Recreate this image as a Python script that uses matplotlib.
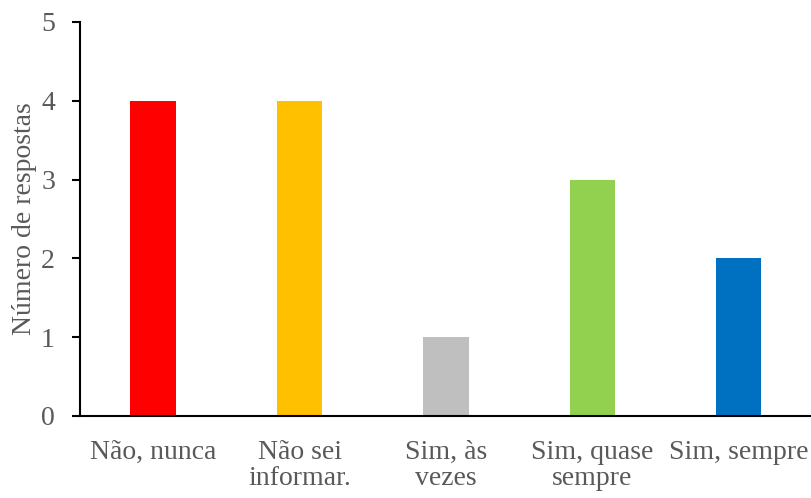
import matplotlib
matplotlib.use('Agg')
import matplotlib.pyplot as plt

# Respostas por categoria
categorias = ['Não, nunca', 'Não sei\ninformar.', 'Sim, às\nvezes', 'Sim, quase\nsempre', 'Sim, sempre']
respostas = [4, 4, 1, 3, 2]
cores = ['#FF0000', '#FFC000', '#BFBFBF', '#92D050', '#0070C0']

texto_cor = '#595959'
plt.rcParams['font.family'] = ['Liberation Serif', 'DejaVu Serif']

fig = plt.figure(figsize=(8.12, 4.98), dpi=100)
ax = fig.add_axes([0.0985, 0.1647, 0.9015, 0.7913])

x = range(len(categorias))
ax.bar(x, respostas, width=0.31, color=cores)

ax.set_xlim(-0.5, len(categorias) - 0.5)
ax.set_ylim(0, 5)
ax.set_yticks(range(0, 6))
ax.set_xticks(list(x))
ax.set_xticklabels(categorias, fontsize=20, color=texto_cor, linespacing=1.1)
ax.tick_params(axis='y', labelsize=20, labelcolor=texto_cor, length=6, width=1.5, pad=12)
ax.tick_params(axis='x', length=0, pad=17)

for lado in ['top', 'right']:
    ax.spines[lado].set_visible(False)
ax.spines['left'].set_linewidth(1.5)
ax.spines['bottom'].set_linewidth(1.5)

ax.set_ylabel('Número de respostas', fontsize=20, color=texto_cor, labelpad=3)

fig.savefig('out.png', dpi=100)
